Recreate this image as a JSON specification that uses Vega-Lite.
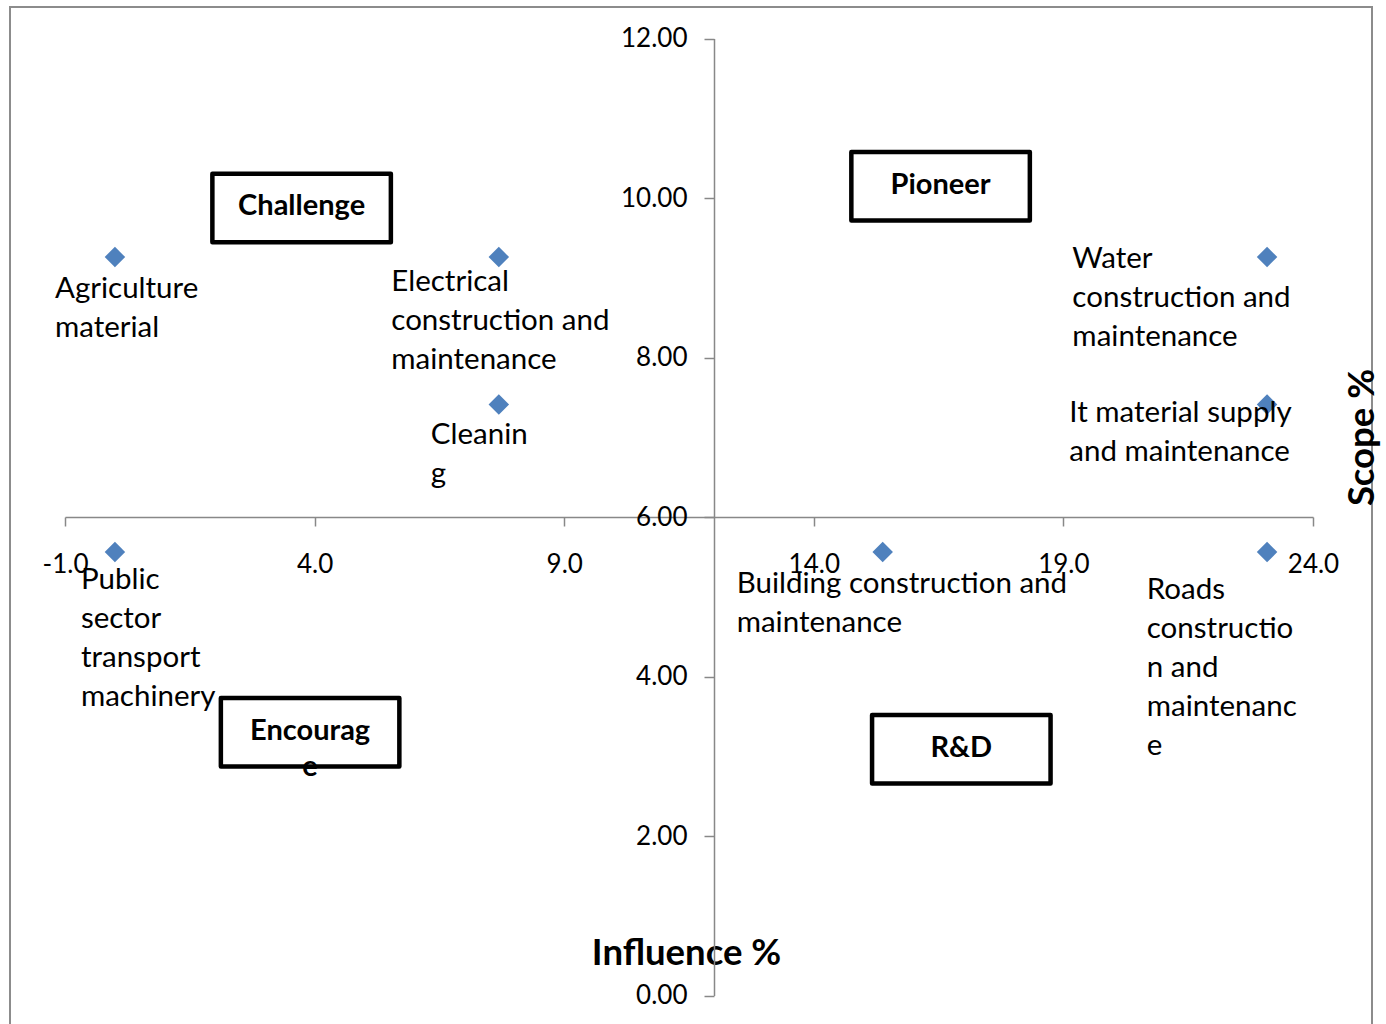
{
  "$schema": "https://vega.github.io/schema/vega-lite/v6.json",
  "width": 1362,
  "height": 1040,
  "autosize": {"type": "none"},
  "padding": {"left": 10, "top": 7, "right": 14, "bottom": 0},
  "background": "white",
  "config": {
    "view": {"stroke": "#8c8c8c", "strokeWidth": 2},
    "font": "Lato",
    "text": {"align": "left", "baseline": "alphabetic", "lineBreak": "\n", "lineHeight": 39, "font": "Lato", "fontSize": 29.5, "color": "#000000"}
  },
  "datasets": {
    "sectors": [
      {"name": "Agriculture material", "label": "Agriculture\nmaterial", "influence": 0.0, "scope": 9.26},
      {"name": "Electrical construction and maintenance", "label": "Electrical\nconstruction and\nmaintenance", "influence": 7.69, "scope": 9.26},
      {"name": "Cleaning", "label": "Cleanin\ng", "influence": 7.69, "scope": 7.41},
      {"name": "Water construction and maintenance", "label": "Water\nconstruction and\nmaintenance", "influence": 23.08, "scope": 9.26},
      {"name": "It material supply and maintenance", "label": "It material supply\nand maintenance", "influence": 23.08, "scope": 7.41},
      {"name": "Public sector transport machinery", "label": "Public\nsector\ntransport\nmachinery", "influence": 0.0, "scope": 5.56},
      {"name": "Building construction and maintenance", "label": "Building construction and\nmaintenance", "influence": 15.38, "scope": 5.56},
      {"name": "Roads construction and maintenance", "label": "Roads\nconstructio\nn and\nmaintenanc\ne", "influence": 23.08, "scope": 5.56}
    ],
    "quadrants": [
      {"quadrant": "Challenge", "label": "Challenge", "influence": 3.74, "scope": 9.875},
      {"quadrant": "Pioneer", "label": "Pioneer", "influence": 16.54, "scope": 10.147},
      {"quadrant": "Encourage", "label": "Encourag\ne", "influence": 3.91, "scope": 3.302},
      {"quadrant": "R&D", "label": "R&D", "influence": 16.955, "scope": 3.088}
    ]
  },
  "data": {"name": "sectors"},
  "encoding": {
    "x": {
      "field": "influence",
      "type": "quantitative",
      "scale": {"domain": [-1, 24], "rangeMin": 55, "rangeMax": 1303, "nice": false, "zero": false},
      "axis": {
        "title": "Influence %",
        "values": [-1, 4, 9, 14, 19, 24],
        "labelExpr": "replace(format(datum.value, '.1f'), '\u2212', '-')",
        "offset": -530,
        "domain": true,
        "domainColor": "#888888",
        "domainWidth": 1.5,
        "grid": false,
        "ticks": true,
        "tickSize": 9,
        "tickColor": "#888888",
        "tickWidth": 1.5,
        "labelFont": "Lato",
        "labelFontSize": 26,
        "labelColor": "#000000",
        "labelBaseline": "alphabetic",
        "labelPadding": 46,
        "labelFlush": false,
        "labelOverlap": false,
        "titleFont": "Lato",
        "titleFontSize": 36.5,
        "titleFontWeight": "bold",
        "titleColor": "#000000",
        "titleX": 676,
        "titleY": 447,
        "titleAlign": "center",
        "titleBaseline": "alphabetic",
        "titleAngle": 0
      }
    },
    "y": {
      "field": "scope",
      "type": "quantitative",
      "scale": {"domain": [0, 12], "rangeMin": 988.5, "rangeMax": 31.5, "nice": false, "zero": false},
      "axis": {
        "title": "Scope %",
        "values": [0, 2, 4, 6, 8, 10, 12],
        "format": ".2f",
        "offset": -704,
        "domain": true,
        "domainColor": "#888888",
        "domainWidth": 1.5,
        "grid": false,
        "ticks": true,
        "tickSize": 10,
        "tickColor": "#888888",
        "tickWidth": 1.5,
        "labelFont": "Lato",
        "labelFontSize": 26,
        "labelColor": "#000000",
        "labelPadding": 17,
        "labelFlush": false,
        "labelOverlap": false,
        "titleFont": "Lato",
        "titleFontSize": 36.5,
        "titleFontWeight": "bold",
        "titleColor": "#000000",
        "titleAngle": 270,
        "titleX": 659,
        "titleY": 430,
        "titleAlign": "center",
        "titleBaseline": "alphabetic"
      }
    }
  },
  "layer": [
    {
      "mark": {"type": "point", "shape": "diamond", "filled": true, "color": "#4F81BD", "opacity": 1, "size": 420}
    },
    {
      "transform": [{"filter": "datum.name === 'Agriculture material'"}],
      "mark": {"type": "text", "dx": -60, "dy": 41},
      "encoding": {"text": {"field": "label"}}
    },
    {
      "transform": [{"filter": "datum.name === 'Electrical construction and maintenance'"}],
      "mark": {"type": "text", "dx": -107.5, "dy": 34},
      "encoding": {"text": {"field": "label"}}
    },
    {
      "transform": [{"filter": "datum.name === 'Cleaning'"}],
      "mark": {"type": "text", "dx": -68, "dy": 39},
      "encoding": {"text": {"field": "label"}}
    },
    {
      "transform": [{"filter": "datum.name === 'Water construction and maintenance'"}],
      "mark": {"type": "text", "dx": -194.7, "dy": 11},
      "encoding": {"text": {"field": "label"}}
    },
    {
      "transform": [{"filter": "datum.name === 'It material supply and maintenance'"}],
      "mark": {"type": "text", "dx": -197.7, "dy": 17.7},
      "encoding": {"text": {"field": "label"}}
    },
    {
      "transform": [{"filter": "datum.name === 'Public sector transport machinery'"}],
      "mark": {"type": "text", "dx": -34, "dy": 36.5},
      "encoding": {"text": {"field": "label"}}
    },
    {
      "transform": [{"filter": "datum.name === 'Building construction and maintenance'"}],
      "mark": {"type": "text", "dx": -146, "dy": 40.5},
      "encoding": {"text": {"field": "label"}}
    },
    {
      "transform": [{"filter": "datum.name === 'Roads construction and maintenance'"}],
      "mark": {"type": "text", "dx": -120.3, "dy": 47.3},
      "encoding": {"text": {"field": "label"}}
    },
    {
      "data": {"name": "quadrants"},
      "mark": {"type": "text", "align": "center", "baseline": "alphabetic", "dy": 7.5, "fontSize": 29, "fontWeight": "bold", "lineHeight": 36},
      "encoding": {"text": {"field": "label"}}
    },
    {
      "data": {"name": "quadrants"},
      "mark": {"type": "point", "shape": "M-1,-0.384H1V0.384H-1Z", "filled": false, "stroke": "#000000", "strokeWidth": 4.5, "strokeJoin": "round", "opacity": 1, "size": 31862}
    }
  ]
}
